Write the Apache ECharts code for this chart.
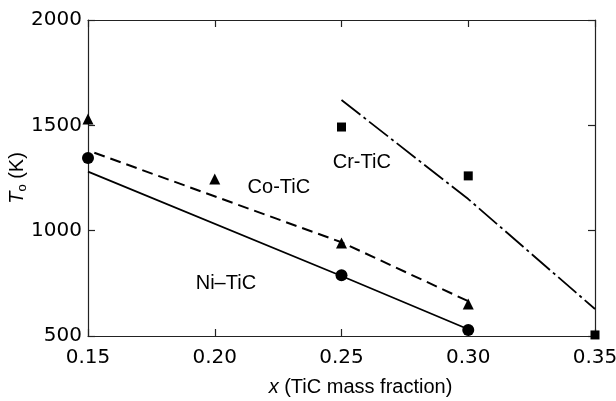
<!DOCTYPE html>
<html>
<head>
    <meta charset="utf-8">
    <title>T0 vs TiC mass fraction</title>
    <script src="https://cdn.jsdelivr.net/npm/echarts@6/dist/echarts.min.js"></script>
    <style>
        body { margin: 0; background: #fff; }
    </style>
</head>
<body>
<div id="main" style="width: 616px;height:401px;"></div>

<script type="text/javascript">
    // measured points
    var coX = [0.15, 0.20, 0.25, 0.30];
    var coT = [1530, 1245, 942, 652];
    var niX = [0.15, 0.25, 0.30];
    var niT = [1345, 788, 528];
    var crX = [0.25, 0.30, 0.35];
    var crT = [1492, 1260, 505];

    // drawn curves
    var coLineX = [0.1525, 0.25, 0.30];
    var coLineT = [1370, 945, 665];
    var niLineX = [0.15, 0.25, 0.30];
    var niLineT = [1280, 785, 532];
    var crLineX = [0.25, 0.30, 0.35];
    var crLineT = [1620, 1150, 628];

    // curve names and where they sit
    var labelText = ['Co-TiC', 'Cr-TiC', 'Ni–TiC'];
    var labelX = [0.2253, 0.258, 0.2044];
    var labelT = [1203, 1326, 751];

    var xTicks = [0.15, 0.20, 0.25, 0.30, 0.35];
    var yTicks = [500, 1000, 1500, 2000];

    function pairs(xs, ys) {
        var out = [];
        for (var i = 0; i < xs.length; i++) {
            out.push([xs[i], ys[i]]);
        }
        return out;
    }

    var myChart = echarts.init(document.getElementById('main'));

    var font = '"Liberation Sans", Arial, sans-serif';
    var tickFont = '"DejaVu Sans", sans-serif';
    var ink = '#000';

    var axisBase = {
        type: 'value',
        axisLine: { show: true, lineStyle: { color: '#222', width: 1.2 } },
        axisTick: { show: true, inside: true, length: 7, lineStyle: { color: '#222', width: 1.2 } },
        splitLine: { show: false }
    };

    var labels = [];
    for (var i = 0; i < labelText.length; i++) {
        labels.push({ value: [labelX[i], labelT[i]], name: labelText[i] });
    }

    var option = {
        animation: false,
        grid: { left: 88, right: 21, top: 20, bottom: 65, containLabel: false, outerBoundsMode: 'none' },
        xAxis: [
            Object.assign({}, axisBase, {
                min: xTicks[0], max: xTicks[xTicks.length - 1], interval: 0.05,
                name: '{i|x} (TiC mass fraction)',
                nameLocation: 'middle',
                nameGap: 41,
                nameMoveOverlap: false,
                nameTextStyle: {
                    color: ink, fontSize: 20, fontFamily: font,
                    padding: [0, 0, 0, 38],
                    rich: {
                        i: { fontStyle: 'italic', fontSize: 20, fontFamily: font, color: ink }
                    }
                },
                axisLabel: {
                    color: ink, fontSize: 20, fontFamily: tickFont, margin: 12,
                    formatter: function (v) { return v.toFixed(2); }
                }
            }),
            Object.assign({}, axisBase, {
                position: 'top',
                min: xTicks[0], max: xTicks[xTicks.length - 1], interval: 0.05,
                axisLabel: { show: false }
            })
        ],
        yAxis: [
            Object.assign({}, axisBase, {
                min: yTicks[0], max: yTicks[yTicks.length - 1], interval: 500,
                name: '{t|T}{s|o} (K)',
                nameLocation: 'middle',
                nameGap: 59,
                nameMoveOverlap: false,
                nameTextStyle: {
                    color: ink, fontSize: 20, fontFamily: font,
                    rich: {
                        t: { fontStyle: 'italic', fontSize: 20, fontFamily: font, color: ink },
                        s: { fontSize: 13, fontFamily: font, color: ink, padding: [10, 0, 0, 0] }
                    }
                },
                axisLabel: {
                    color: ink, fontSize: 20, fontFamily: tickFont, margin: 6,
                    formatter: function (v) { return String(v); }
                }
            }),
            Object.assign({}, axisBase, {
                position: 'right',
                min: yTicks[0], max: yTicks[yTicks.length - 1], interval: 500,
                axisLabel: { show: false }
            })
        ],
        series: [
            {
                name: 'Ni-TiC fit', type: 'line', data: pairs(niLineX, niLineT),
                showSymbol: false, symbol: 'none',
                lineStyle: { color: ink, width: 1.8, type: 'solid' }
            },
            {
                name: 'Co-TiC fit', type: 'line', data: pairs(coLineX, coLineT),
                showSymbol: false, symbol: 'none',
                lineStyle: { color: ink, width: 2, type: [11, 6] }
            },
            {
                name: 'Cr-TiC fit', type: 'line', data: pairs(crLineX, crLineT),
                showSymbol: false, symbol: 'none',
                lineStyle: { color: ink, width: 1.8, type: [24, 4, 3, 4] }
            },
            {
                name: 'Co-TiC', type: 'scatter', data: pairs(coX, coT),
                symbol: 'triangle', symbolSize: 11,
                itemStyle: { color: ink, opacity: 1 }
            },
            {
                name: 'Ni-TiC', type: 'scatter', data: pairs(niX, niT),
                symbol: 'circle', symbolSize: 12,
                itemStyle: { color: ink, opacity: 1 }
            },
            {
                name: 'Cr-TiC', type: 'scatter', data: pairs(crX, crT),
                symbol: 'rect', symbolSize: 9,
                itemStyle: { color: ink, opacity: 1 }
            },
            {
                name: 'labels', type: 'scatter', data: labels,
                symbolSize: 0, silent: true,
                itemStyle: { opacity: 1 },
                label: {
                    show: true, position: 'inside',
                    formatter: '{b}',
                    color: ink, fontSize: 20, fontFamily: font,
                    textBorderWidth: 0
                }
            }
        ]
    };

    myChart.setOption(option);
</script>
</body>
</html>
